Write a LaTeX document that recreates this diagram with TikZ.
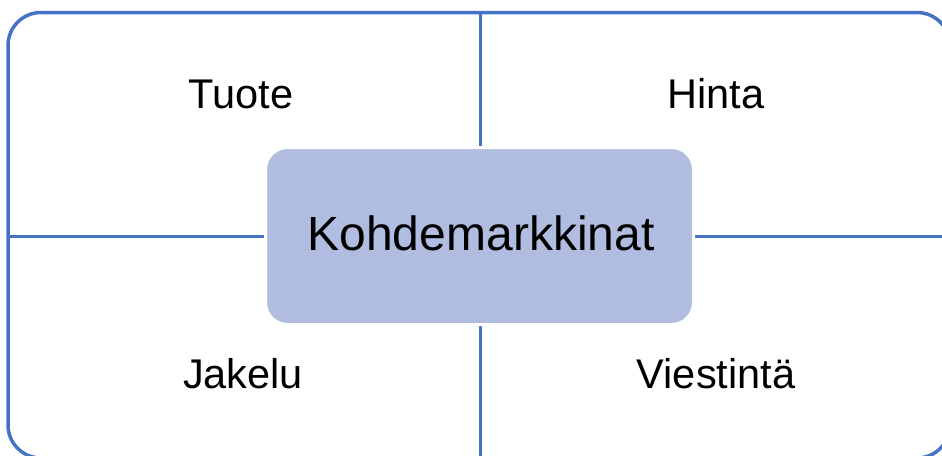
\documentclass[tikz,border=0pt]{standalone}
\usepackage{fontspec}
\setmainfont{Liberation Sans}
\definecolor{frameblue}{HTML}{4472C4}
\definecolor{hubfill}{RGB}{176,189,224}
\begin{document}
\begin{tikzpicture}[x=1pt,y=-1pt,
  frame/.style={draw=frameblue,line width=3.5pt,rounded corners=33pt},
  divider/.style={draw=frameblue,line width=3pt},
  hub/.style={rectangle,rounded corners=22pt,fill=hubfill,draw=white,line width=3pt,
    minimum width=428pt,minimum height=177pt,inner sep=0pt},
  quad/.style={anchor=base,inner sep=0pt,font=\fontsize{41.5}{50}\selectfont}]
\useasboundingbox (0,0) rectangle (942,455);
\fill[white] (0,0) rectangle (942,455);

% outer frame (runs past the right and bottom edges)
\draw[frame] (8,12.5) rectangle (950,458);

% ends of the dividing lines on the frame
\coordinate (ntop) at (480,12.5);
\coordinate (nbot) at (480,458);
\coordinate (wleft) at (8,236);
\coordinate (eright) at (950,236);

% central box
\node[hub] (hub) at (479.5,236) {};

% dividers from the frame to the central box
\draw[divider] (ntop) -- (ntop |- hub.north);
\draw[divider] (nbot) -- (nbot |- hub.south);
\draw[divider] (wleft) -- (hub.west |- wleft);
\draw[divider] (eright) -- (hub.east |- eright);

% redraw the box on top so the lines stop at its white rim
\node[hub] (hubtop) at (479.5,236) {};
\node[anchor=base,inner sep=0pt,font=\fontsize{48}{57}\selectfont] (hublabel) at (481,250.5) {Kohdemarkkinat};

% quadrant labels
\node[quad] (tuote) at (241,108) {Tuote};
\node[quad] (hinta) at (716,108) {Hinta};
\node[quad] (jakelu) at (243,388) {Jakelu};
\node[quad] (viestinta) at (716,388) {Viestintä};
\end{tikzpicture}
\end{document}
